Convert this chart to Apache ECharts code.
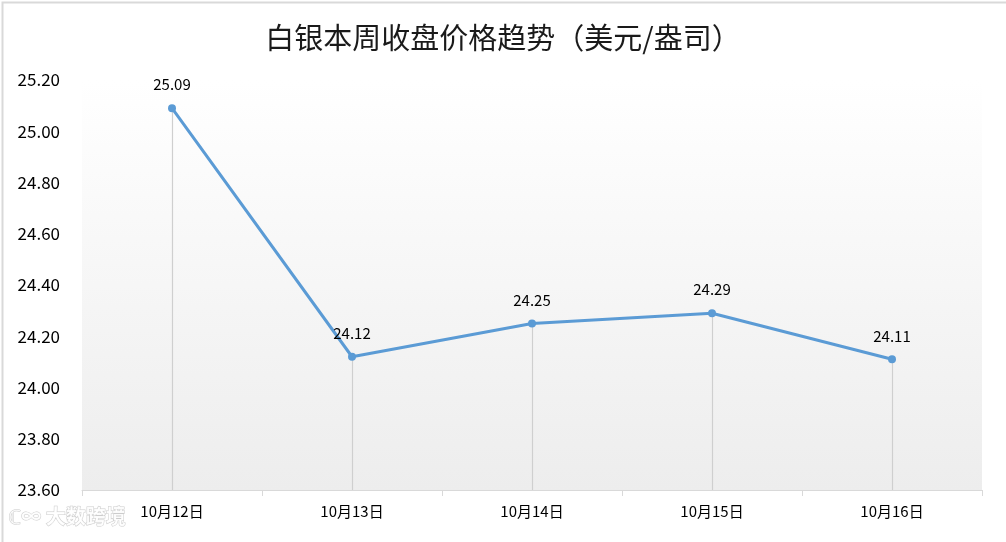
<!DOCTYPE html>
<html>
<head>
<meta charset="utf-8">
<script src="https://cdn.jsdelivr.net/npm/echarts@6/dist/echarts.min.js"></script>
<style>
html,body{margin:0;padding:0;background:#fff;}
#chart{width:1006px;height:542px;}
</style>
</head>
<body>
<div id="chart"></div>
<script>
const titleText = '白银本周收盘价格趋势（美元/盎司）';
const categories = ['10月12日', '10月13日', '10月14日', '10月15日', '10月16日'];
const prices = [25.09, 24.12, 24.25, 24.29, 24.11];
const yMin = 23.6, yMax = 25.2, yStep = 0.2;

const chart = echarts.init(document.getElementById('chart'));
const font = '"Noto Sans CJK SC", "Noto Sans", sans-serif';

const dropLines = prices.map((v, i) => [
  { coord: [i, v] },
  { coord: [i, yMin] }
]);

chart.setOption({
  backgroundColor: '#ffffff',
  animation: false,
  title: {
    text: titleText,
    left: 'center',
    top: 18,
    textStyle: { fontFamily: font, fontSize: 29, fontWeight: 'normal', color: '#1a1a1a' }
  },
  grid: {
    left: 82, right: 24, top: 80, bottom: 52,
    show: true,
    borderWidth: 0,
    backgroundColor: new echarts.graphic.LinearGradient(0, 0, 0, 1, [
      { offset: 0, color: '#ffffff' },
      { offset: 1, color: '#ededed' }
    ])
  },
  xAxis: {
    type: 'category',
    data: categories,
    boundaryGap: true,
    axisLine: { show: true, lineStyle: { color: '#d9d9d9', width: 1 } },
    axisTick: { show: true, alignWithLabel: false, length: 6, lineStyle: { color: '#d9d9d9' } },
    axisLabel: { fontFamily: font, fontSize: 15, color: '#000', margin: 14 },
    splitLine: { show: false }
  },
  yAxis: {
    type: 'value',
    min: yMin, max: yMax, interval: yStep,
    axisLine: { show: false },
    axisTick: { show: false },
    splitLine: { show: false },
    axisLabel: {
      fontFamily: font, fontSize: 17, color: '#000', margin: 22,
      formatter: v => v.toFixed(2)
    }
  },
  series: [{
    type: 'line',
    data: prices,
    symbol: 'circle',
    symbolSize: 8,
    lineStyle: { color: '#5b9bd5', width: 3 },
    itemStyle: { color: '#5b9bd5' },
    label: {
      show: true, position: 'top', distance: 12,
      fontFamily: font, fontSize: 15, color: '#000',
      formatter: p => p.value.toFixed(2)
    },
    markLine: {
      silent: true,
      symbol: ['none', 'none'],
      label: { show: false },
      lineStyle: { color: '#cfcfcf', width: 1.2, type: 'solid' },
      data: dropLines,
      z: 1
    },
    z: 3
  }],
  graphic: [
    {
      type: 'rect', left: 0, top: 0, z: 100, silent: true,
      shape: { x: 0.5, y: 0.5, width: 1005, height: 541 },
      style: { fill: 'none', stroke: '#d9d9d9', lineWidth: 2 }
    },
    {
      type: 'text', left: 8, top: 506, z: 100, silent: true,
      style: {
        text: 'ℂ∞ 大数跨境', fontFamily: font, fontSize: 20, fontWeight: 'bold',
        fill: 'rgba(255,255,255,0.85)', stroke: 'rgba(170,170,170,0.6)', lineWidth: 1
      }
    }
  ]
});
</script>
</body>
</html>
